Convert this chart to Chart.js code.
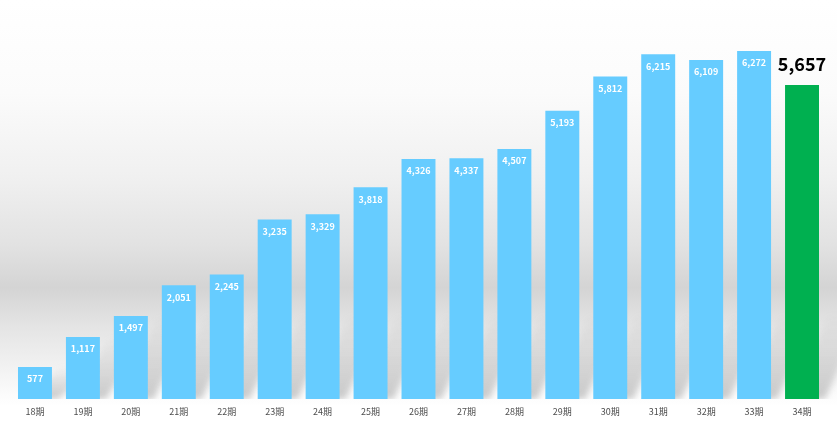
<!DOCTYPE html>
<html>
<head>
<meta charset="utf-8">
<script src="https://cdn.jsdelivr.net/npm/chart.js@4/dist/chart.umd.min.js"></script>
<style>
  html, body { margin: 0; padding: 0; background: #fff; }
  .wrap {
    width: 837px; height: 423px; position: relative;
    background: linear-gradient(to bottom, #ffffff 0%, #fbfbfb 22%, #f0f0f0 42%, #e2e2e2 58%, #d4d4d4 68%, #e4e4e4 77%, #f2f2f2 87%, #fbfbfb 93%, #ffffff 96%);
  }
</style>
</head>
<body>
<div class="wrap"><canvas id="salesChart" width="837" height="423"></canvas></div>
<script>
// data
const periods = ['18期', '19期', '20期', '21期', '22期', '23期', '24期', '25期', '26期',
                 '27期', '28期', '29期', '30期', '31期', '32期', '33期', '34期'];
const sales = [577, 1117, 1497, 2051, 2245, 3235, 3329, 3818, 4326,
               4337, 4507, 5193, 5812, 6215, 6109, 6272, 5657];
const yMax = 7000;

const lastIndex = sales.length - 1;
const barColors = sales.map((v, i) => i === lastIndex ? '#00B050' : '#66CCFF');

// soft slanted shadow behind each bar
const barShadows = {
    id: 'barShadows',
    beforeDatasetsDraw(chart) {
        const ctx = chart.ctx;
        const meta = chart.getDatasetMeta(0);
        ctx.save();
        ctx.beginPath();
        ctx.rect(0, 0, chart.width, chart.chartArea.bottom);
        ctx.clip();
        meta.data.forEach(bar => {
            const half = bar.width / 2;
            const left = bar.x - half, right = bar.x + half;
            const base = bar.base;
            const h = Math.min(base - bar.y, 85);
            const dx = 38;
            const grad = ctx.createLinearGradient(0, base, 0, base - h);
            grad.addColorStop(0, 'rgba(150,150,150,0.5)');
            grad.addColorStop(1, 'rgba(150,150,150,0)');
            ctx.fillStyle = grad;
            ctx.filter = 'blur(3px)';
            ctx.beginPath();
            ctx.moveTo(left + 6, base);
            ctx.lineTo(right + 6, base);
            ctx.lineTo(right + 6 + dx, base - h);
            ctx.lineTo(left + 6 + dx, base - h);
            ctx.closePath();
            ctx.fill();
        });
        ctx.restore();
    }
};

// value labels
const valueLabels = {
    id: 'valueLabels',
    afterDatasetsDraw(chart) {
        const ctx = chart.ctx;
        const meta = chart.getDatasetMeta(0);
        ctx.save();
        ctx.textAlign = 'center';
        ctx.textBaseline = 'middle';
        meta.data.forEach((bar, i) => {
            const txt = sales[i].toLocaleString('en-US');
            if (i === lastIndex) {
                ctx.fillStyle = '#000';
                ctx.font = 'bold 18px "Noto Sans CJK JP", "Noto Sans", sans-serif';
                ctx.fillText(txt, bar.x, bar.y - 21);
            } else {
                ctx.fillStyle = '#fff';
                ctx.font = 'bold 9px "Noto Sans CJK JP", "Noto Sans", sans-serif';
                ctx.fillText(txt, bar.x, bar.y + 12);
            }
        });
        ctx.restore();
    }
};

const ctx = document.getElementById('salesChart').getContext('2d');
const salesChart = new Chart(ctx, {
    type: 'bar',
    data: {
        labels: periods,
        datasets: [{
            data: sales,
            backgroundColor: barColors,
            borderWidth: 0,
            barPercentage: 34 / 48,
            categoryPercentage: 1
        }]
    },
    options: {
        responsive: false,
        animation: false,
        layout: { padding: { left: 11, right: 11, top: 10.6, bottom: 0 } },
        plugins: {
            legend: { display: false },
            tooltip: { enabled: false }
        },
        scales: {
            x: {
                grid: { display: false, drawTicks: false },
                border: { display: false },
                ticks: {
                    color: '#4d4d4d',
                    padding: 7,
                    font: { size: 9, family: '"Noto Sans CJK JP", sans-serif' }
                },
                afterFit(scale) { scale.height = 24; }
            },
            y: {
                display: false,
                min: 0,
                max: yMax
            }
        }
    },
    plugins: [barShadows, valueLabels]
});
</script>
</body>
</html>
